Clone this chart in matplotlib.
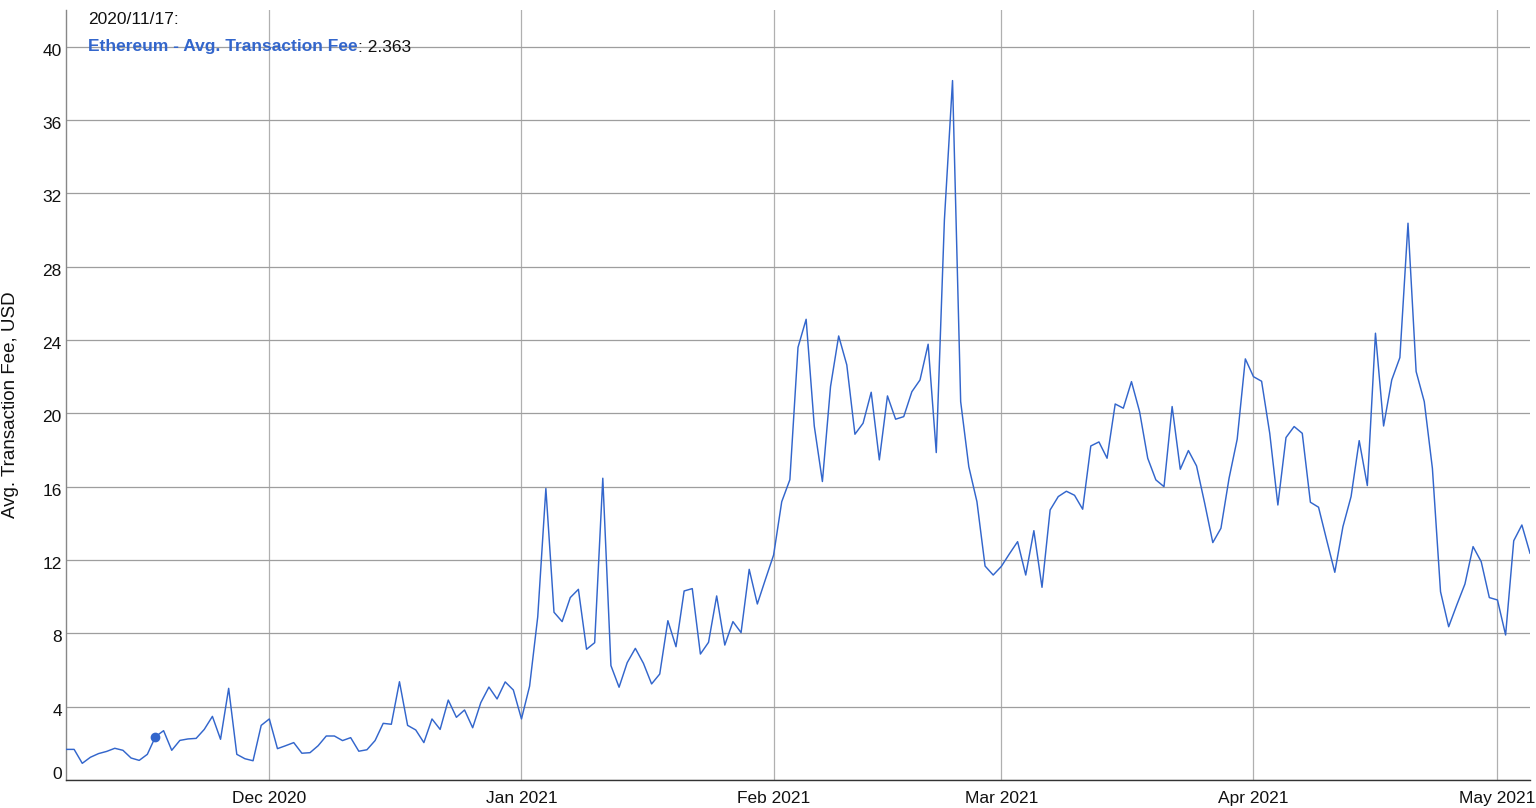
import matplotlib
matplotlib.use("Agg")
import matplotlib.pyplot as plt
import matplotlib.dates as mdates
from matplotlib.transforms import ScaledTranslation
import pandas as pd

start_date = "2020-11-06"
fees = [
    1.67, 1.67, 0.91, 1.24, 1.44, 1.56, 1.73, 1.62, 1.20, 1.07, 1.40, 2.363, 2.69, 1.62, 2.16, 2.24,
    2.27, 2.76, 3.47, 2.22, 5.00, 1.40, 1.16, 1.05, 2.98, 3.33, 1.71, 1.87, 2.04, 1.46, 1.49,
    1.87, 2.40, 2.40, 2.15, 2.31, 1.57, 1.65, 2.15, 3.09, 3.04, 5.36, 2.98, 2.73, 2.04, 3.33,
    2.76, 4.36, 3.42, 3.82, 2.85, 4.22, 5.07, 4.42, 5.35, 4.91, 3.33, 5.12, 8.90, 15.90, 9.15,
    8.64, 9.95, 10.40, 7.13, 7.49, 16.46, 6.24, 5.06, 6.40, 7.18, 6.36, 5.24, 5.78, 8.69, 7.27,
    10.31, 10.44, 6.87, 7.51, 10.04, 7.36, 8.64, 8.04, 11.49, 9.60, 10.95, 12.27, 15.18, 16.38,
    23.60, 25.13, 19.31, 16.28, 21.46, 24.22, 22.64, 18.86, 19.46, 21.15, 17.46, 20.95, 19.68,
    19.82, 21.18, 21.82, 23.77, 17.86, 30.55, 38.15, 20.64, 17.09, 15.18, 11.67, 11.18, 11.65,
    12.34, 13.00, 11.18, 13.60, 10.51, 14.73, 15.46, 15.75, 15.53, 14.77, 18.22, 18.44, 17.55,
    20.51, 20.28, 21.73, 20.09, 17.55, 16.37, 16.00, 20.37, 16.95, 17.97, 17.13, 15.10, 12.95,
    13.73, 16.46, 18.59, 22.97, 22.00, 21.75, 18.91, 15.00, 18.68, 19.28, 18.91, 15.15, 14.88,
    13.09, 11.33, 13.82, 15.46, 18.51, 16.06, 24.37, 19.31, 21.82, 23.04, 30.37, 22.28, 20.64,
    17.00, 10.27, 8.36, 9.55, 10.69, 12.73, 11.91, 9.95, 9.82, 7.91, 13.05, 13.91, 12.37,
]
dates = pd.date_range(start_date, periods=len(fees), freq="D")
y_ticks = [0, 4, 8, 12, 16, 20, 24, 28, 32, 36, 40]
highlight_index = 11
series_name = "Ethereum - Avg. Transaction Fee"
y_label = "Avg. Transaction Fee, USD"

line_color = "#3366cc"
plt.rcParams["font.family"] = ["Liberation Sans", "DejaVu Sans"]

fig = plt.figure(figsize=(15.36, 8.08), dpi=100)
ax = fig.add_axes([66 / 1536, 1 - 780 / 808, (1530 - 66) / 1536, (780 - 10) / 808])

ax.plot(dates, fees, color=line_color, linewidth=1.05, zorder=3)
ax.plot(dates[highlight_index], fees[highlight_index], "o", color=line_color,
        markersize=6, zorder=4)

ax.set_xlim(dates[0], dates[-1])
ax.set_ylim(0, 42)
ax.set_yticks(y_ticks)
ax.set_yticklabels([str(t) for t in y_ticks])

ax.xaxis.set_major_locator(mdates.MonthLocator())
ax.xaxis.set_major_formatter(mdates.DateFormatter("%b %Y"))

ax.grid(True, axis="y", color="#9e9e9e", linewidth=0.9, zorder=1)
ax.grid(True, axis="x", color="#b0b0b0", linewidth=0.9, zorder=1)

for s in ["top", "right"]:
    ax.spines[s].set_visible(False)
ax.spines["left"].set_color("#888888")
ax.spines["bottom"].set_color("#333333")
ax.spines["left"].set_linewidth(1.0)
ax.spines["bottom"].set_linewidth(1.0)

ax.tick_params(axis="y", length=0, labelsize=12.5, pad=3, labelcolor="#111111")
ax.tick_params(axis="x", length=0, labelsize=12.5, pad=8, labelcolor="#111111")

# Google-style label placement: zero label sits on the baseline, others slightly below grid
for i, lbl in enumerate(ax.get_yticklabels()):
    dy = 7 if i == 0 else -3
    lbl.set_transform(lbl.get_transform() + ScaledTranslation(0, dy / 100, fig.dpi_scale_trans))

ax.set_ylabel(y_label, fontsize=13.5, color="#111111")
ax.yaxis.set_label_coords(-0.0321, 0.488)

date_text = dates[highlight_index].strftime("%Y/%m/%d") + ":"
fig.text(88 / 1536, 1 - 20 / 808, date_text, fontsize=12.5, color="#111111", va="center")
t1 = fig.text(88 / 1536, 1 - 47 / 808, series_name, fontsize=12.5, color=line_color,
              fontweight="bold", va="center")
fig.canvas.draw()
bb = t1.get_window_extent()
fig.text(bb.x1 / fig.bbox.width, 1 - 47 / 808, ": %.3f" % fees[highlight_index],
         fontsize=12.5, color="#111111", va="center")

fig.savefig("out.png", dpi=100)
